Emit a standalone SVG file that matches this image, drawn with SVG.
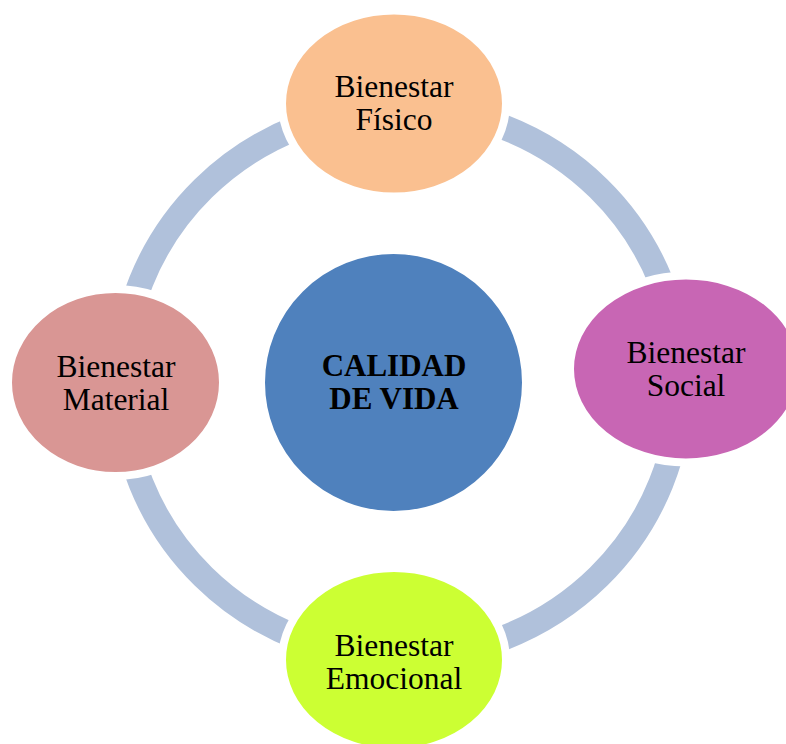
<svg xmlns="http://www.w3.org/2000/svg" width="786" height="744" viewBox="0 0 786 744">
<style>
.t{font-family:"Liberation Serif","Times New Roman",serif;font-size:31.5px;fill:#000;text-anchor:middle}
.b{font-weight:bold;font-size:31px}
.n{stroke:#fff;stroke-width:8}
</style>
<rect width="786" height="744" fill="#fff"/>
<g id="connectors">
<ellipse cx="401" cy="382.5" rx="279.5" ry="274.5" fill="none" stroke="#B0C1DB" stroke-width="25"/>
</g>
<g id="center">
<circle cx="393.5" cy="382.5" r="129.5" fill="#4F81BD" stroke="#fff" stroke-width="2"/>
<text class="t b" x="394" y="376">CALIDAD</text>
<text class="t b" x="394" y="409">DE VIDA</text>
</g>
<g id="fisico">
<ellipse cx="394" cy="103.5" rx="112" ry="93" fill="#FAC090" class="n"/>
<text class="t" x="394" y="97">Bienestar</text>
<text class="t" x="394" y="130">Físico</text>
</g>
<g id="social">
<ellipse cx="686" cy="369" rx="116" ry="93.5" fill="#C866B4" class="n"/>
<text class="t" x="686" y="363">Bienestar</text>
<text class="t" x="686" y="396">Social</text>
</g>
<g id="emocional">
<ellipse cx="394" cy="660" rx="112" ry="92" fill="#CCFF33" class="n"/>
<text class="t" x="394" y="656">Bienestar</text>
<text class="t" x="394" y="689">Emocional</text>
</g>
<g id="material">
<ellipse cx="115.5" cy="382.5" rx="107.5" ry="93.5" fill="#D99694" class="n"/>
<text class="t" x="116" y="377">Bienestar</text>
<text class="t" x="116" y="410">Material</text>
</g>
</svg>
